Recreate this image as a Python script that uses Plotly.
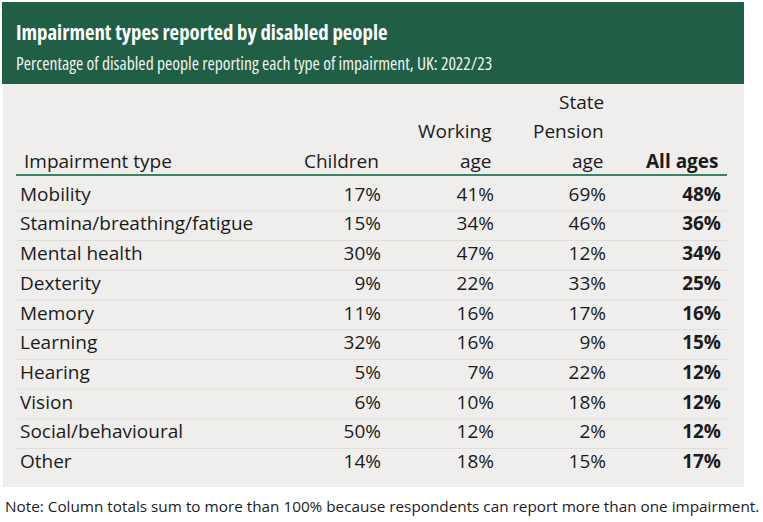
import plotly.graph_objects as go

# ---- data ----
impairments = ["Mobility", "Stamina/breathing/fatigue", "Mental health", "Dexterity",
               "Memory", "Learning", "Hearing", "Vision", "Social/behavioural", "Other"]
children = [17, 15, 30, 9, 11, 32, 5, 6, 50, 14]
working_age = [41, 34, 47, 22, 16, 16, 7, 10, 12, 18]
state_pension_age = [69, 46, 12, 33, 17, 9, 22, 18, 2, 15]
all_ages = [48, 36, 34, 25, 16, 15, 12, 12, 12, 17]
column_headers = [["Impairment type"], ["Children"], ["Working", "age"],
                  ["State", "Pension", "age"], ["All ages"]]

title = "Impairment types reported by disabled people"
subtitle = "Percentage of disabled people reporting each type of impairment, UK: 2022/23"
note = "Note: Column totals sum to more than 100% because respondents can report more than one impairment."

# ---- styling ----
W, H = 763, 522
GREEN = "#205e45"
RULE = "#3a8260"
PANEL = "#efeeec"
SEP = "#dddcda"
TXT = "#1b1b1b"
BODY_FONT = "Open Sans"
FS = 19

row0_px, row_step = 196, 29.7
y_top = -row0_px / row_step
y_bot = (H - row0_px) / row_step

col_x = [20, 381, 494, 606, 721]


def cond(s):
    return f"<span style='font-stretch:condensed'>{s}</span>"


def pct(v):
    return [f"{x}%" for x in v]


fig = go.Figure()

fig.add_trace(go.Scatter(
    x=[col_x[0]] * len(impairments), y=impairments, mode="text",
    text=impairments, textposition="middle right",
    textfont=dict(family=BODY_FONT, size=FS, color=TXT), hoverinfo="skip"))

for cx, vals, bold in [(col_x[1], children, False), (col_x[2], working_age, False),
                       (col_x[3], state_pension_age, False), (col_x[4], all_ages, True)]:
    fig.add_trace(go.Scatter(
        x=[cx] * len(impairments), y=impairments, mode="text",
        text=pct(vals), textposition="middle left",
        textfont=dict(family=BODY_FONT, size=FS, color=TXT, weight="bold" if bold else "normal"),
        hoverinfo="skip"))

shapes = []
shapes.append(dict(type="rect", xref="x", yref="paper", x0=2, x1=744, y0=1 - 84 / H, y1=1 - 2 / H,
                   fillcolor=GREEN, line=dict(width=0), layer="below"))
shapes.append(dict(type="rect", xref="x", yref="paper", x0=3, x1=744, y0=1 - 487 / H, y1=1 - 84 / H,
                   fillcolor=PANEL, line=dict(width=0), layer="below"))
shapes.append(dict(type="line", xref="x", yref="paper", x0=16, x1=727, y0=1 - 175 / H, y1=1 - 175 / H,
                   line=dict(color=RULE, width=2)))
for i in range(len(impairments) - 1):
    shapes.append(dict(type="line", xref="x", yref="y", x0=16, x1=727, y0=i + 0.5, y1=i + 0.5,
                       line=dict(color=SEP, width=1)))

annotations = [
    dict(text=cond(f"<b>{title}</b>"), x=14, y=1 - 32 / H, xref="x", yref="paper", xanchor="left", yanchor="middle",
         showarrow=False, font=dict(family="Open Sans", size=20.8, color="white")),
    dict(text=cond(subtitle), x=14, y=1 - 63 / H, xref="x", yref="paper", xanchor="left", yanchor="middle",
         showarrow=False, font=dict(family="Open Sans", size=17.6, color="#eef3f0")),
    dict(text=note, x=3, y=1 - 506 / H, xref="x", yref="paper", xanchor="left", yanchor="middle",
         showarrow=False, font=dict(family="Open Sans", size=15.3, color=TXT)),
]
header_line_px = [161, 131, 102]  # bottom line upward
for j, lines in enumerate(column_headers):
    for k, line in enumerate(reversed(lines)):
        annotations.append(dict(
            text=f"<b>{line}</b>" if j == 4 else line,
            x=col_x[j] + (2 if j == 0 else 0), y=1 - header_line_px[k] / H, xref="x", yref="paper",
            xanchor="left" if j == 0 else "right", yanchor="middle", showarrow=False,
            font=dict(family=BODY_FONT, size=FS, color=TXT)))

fig.update_layout(
    width=W, height=H, margin=dict(l=0, r=0, t=0, b=0),
    paper_bgcolor="white", plot_bgcolor="white", showlegend=False,
    xaxis=dict(range=[0, W], visible=False, fixedrange=True),
    yaxis=dict(type="category", categoryorder="array", categoryarray=impairments,
               range=[y_bot, y_top], visible=False, fixedrange=True),
    shapes=shapes, annotations=annotations,
)

fig.write_html("out.html", config={"displayModeBar": False},
               post_script="document.body.style.margin='0';")
